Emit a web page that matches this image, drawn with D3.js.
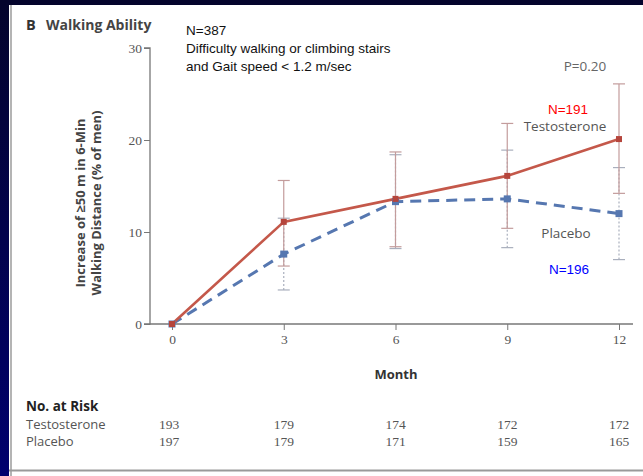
<!DOCTYPE html>
<html>
<head>
<meta charset="utf-8">
<script src="https://cdn.jsdelivr.net/npm/d3@7/dist/d3.min.js"></script>
<style>
  html, body { margin: 0; padding: 0; background: #02022e; }
  svg { display: block; }
</style>
</head>
<body>
<svg id="chart" width="643" height="476"></svg>
<script>
// Months of follow-up
const months = [0, 3, 6, 9, 12];

// Percentage of men with an increase of >=50 m in 6-min walking distance
const testoValues = [0, 11.1, 13.6, 16.1, 20.1];
const testoLower  = [0, 6.3, 8.4, 10.4, 14.2];
const testoUpper  = [0, 15.6, 18.7, 21.8, 26.1];

const placeboValues = [0, 7.6, 13.3, 13.6, 12.0];
const placeboLower  = [0, 3.7, 8.2, 8.3, 7.0];
const placeboUpper  = [0, 11.5, 18.4, 18.9, 17.0];

// Number at risk
const riskTesto   = [193, 179, 174, 172, 172];
const riskPlacebo = [197, 179, 171, 159, 165];

const yTicks = [0, 10, 20, 30];

const svg = d3.select("#chart");

// Frame: dark backdrop with a white panel
const defs = svg.append("defs");
const grad = defs.append("linearGradient").attr("id", "bg").attr("x1", 0).attr("y1", 0).attr("x2", 0).attr("y2", 1);
grad.append("stop").attr("offset", "0%").attr("stop-color", "#04042c");
grad.append("stop").attr("offset", "100%").attr("stop-color", "#00006e");
svg.append("rect").attr("width", 643).attr("height", 476).attr("fill", "url(#bg)");
svg.append("rect").attr("x", 9).attr("y", 5).attr("width", 634).attr("height", 471).attr("fill", "#ffffff");
svg.append("line").attr("x1", 11).attr("x2", 11).attr("y1", 5).attr("y2", 476)
  .attr("stroke", "#b4b4b4").attr("stroke-width", 2);
svg.append("line").attr("x1", 9).attr("x2", 643).attr("y1", 470.5).attr("y2", 470.5)
  .attr("stroke", "#9a9a9a").attr("stroke-width", 2);

const sans = "'Open Sans', 'Noto Sans', sans-serif";
const serif = "'Liberation Serif', 'DejaVu Serif', serif";
const arial = "'Liberation Sans', Arial, sans-serif";

// Scales
const x = d3.scaleLinear().domain([0, 12]).range([172, 619]);
const y = d3.scaleLinear().domain([0, 30]).range([324, 48]);

// Y axis
const yAxis = d3.axisLeft(y).tickValues(yTicks).tickSize(6).tickPadding(2);
const gy = svg.append("g").attr("transform", "translate(150,0)").call(yAxis);
gy.select(".domain").attr("stroke", "#777").attr("stroke-width", 1.3).attr("d", "M-6,48H0V324H-6");
gy.selectAll(".tick line").attr("stroke", "#777");
gy.selectAll(".tick text").attr("fill", "#555").style("font-family", serif).style("font-size", "13.5px");

// X axis
const xAxis = d3.axisBottom(x).tickValues(months).tickSize(6).tickPadding(4);
const gx = svg.append("g").attr("transform", "translate(0,324)").call(xAxis);
gx.select(".domain").attr("stroke", "#777").attr("stroke-width", 1.3).attr("d", "M150,0H633");
gx.selectAll(".tick line").attr("stroke", "#777");
gx.selectAll(".tick text").attr("fill", "#555").style("font-family", serif).style("font-size", "13.5px");

// Axis titles
svg.append("text").attr("x", 396).attr("y", 379).attr("text-anchor", "middle")
  .style("font-family", sans).style("font-weight", "bold").style("font-size", "13px").attr("fill", "#333")
  .text("Month");

const yTitle = svg.append("g").attr("transform", "translate(86,203) rotate(-90)");
yTitle.append("text").attr("x", 0).attr("y", -1).attr("text-anchor", "middle")
  .style("font-family", sans).style("font-weight", "bold").style("font-size", "13px").attr("fill", "#444")
  .text("Increase of \u226550 m in 6-Min");
yTitle.append("text").attr("x", 0).attr("y", 15).attr("text-anchor", "middle")
  .style("font-family", sans).style("font-weight", "bold").style("font-size", "13px").attr("fill", "#444")
  .text("Walking Distance (% of men)");

// Panel heading
svg.append("text").attr("x", 26).attr("y", 30)
  .style("font-family", sans).style("font-weight", "bold").style("font-size", "14.5px").attr("fill", "#333")
  .text("B");
svg.append("text").attr("x", 46).attr("y", 30)
  .style("font-family", sans).style("font-weight", "bold").style("font-size", "14px").attr("fill", "#444")
  .text("Walking Ability");

// Study population note
const note = svg.append("text").style("font-family", arial).style("font-size", "13.5px").attr("fill", "#111");
note.append("tspan").attr("x", 186).attr("y", 35).text("N=387");
note.append("tspan").attr("x", 186).attr("y", 53).text("Difficulty walking or climbing stairs");
note.append("tspan").attr("x", 186).attr("y", 71).text("and Gait speed < 1.2 m/sec");

// Error bars
const testoColor = "#c4584a";
const placeboColor = "#5677b0";
function errorBars(lower, upper, stroke, dash, cls) {
  const g = svg.append("g").attr("class", cls);
  months.forEach((m, i) => {
    if (upper[i] === lower[i]) return;
    const cx = x(m);
    g.append("line").attr("x1", cx).attr("x2", cx).attr("y1", y(lower[i])).attr("y2", y(upper[i]))
      .attr("stroke", stroke).attr("stroke-width", 1.2).attr("stroke-dasharray", dash);
    [lower[i], upper[i]].forEach(v => {
      g.append("line").attr("x1", cx - 6).attr("x2", cx + 6).attr("y1", y(v)).attr("y2", y(v))
        .attr("stroke", stroke).attr("stroke-width", 1.2);
    });
  });
}
errorBars(placeboLower, placeboUpper, "#a9afbd", "2,2", "placebo-err");
errorBars(testoLower, testoUpper, "#c39c9c", null, "testo-err");

// Lines
const line = d3.line().x((d, i) => x(months[i])).y(d => y(d));
svg.append("path").datum(placeboValues).attr("d", line).attr("fill", "none")
  .attr("stroke", placeboColor).attr("stroke-width", 3).attr("stroke-dasharray", "11,7");
svg.append("path").datum(testoValues).attr("d", line).attr("fill", "none")
  .attr("stroke", testoColor).attr("stroke-width", 2.6);

// Markers
svg.append("g").selectAll("rect").data(placeboValues).join("rect")
  .attr("x", (d, i) => x(months[i]) - 3.5).attr("y", d => y(d) - 3.5)
  .attr("width", 7).attr("height", 7).attr("fill", placeboColor);
svg.append("g").selectAll("rect").data(testoValues).join("rect")
  .attr("x", (d, i) => x(months[i]) - 3).attr("y", d => y(d) - 3)
  .attr("width", 6).attr("height", 6).attr("fill", "#b5453c");

// Series labels
svg.append("text").attr("x", 585).attr("y", 71).attr("text-anchor", "middle")
  .style("font-family", sans).style("font-size", "13.5px").attr("fill", "#666").text("P=0.20");
svg.append("text").attr("x", 568).attr("y", 114).attr("text-anchor", "middle")
  .style("font-family", arial).style("font-size", "13.5px").attr("fill", "#ff0000").text("N=191");
svg.append("text").attr("x", 565).attr("y", 131).attr("text-anchor", "middle")
  .style("font-family", sans).style("font-size", "13.5px").attr("fill", "#555").text("Testosterone");
svg.append("text").attr("x", 566).attr("y", 238).attr("text-anchor", "middle")
  .style("font-family", sans).style("font-size", "13.5px").attr("fill", "#555").text("Placebo");
svg.append("text").attr("x", 569).attr("y", 274).attr("text-anchor", "middle")
  .style("font-family", arial).style("font-size", "13.5px").attr("fill", "#0000ff").text("N=196");

// Number at risk table
svg.append("text").attr("x", 26).attr("y", 411)
  .style("font-family", sans).style("font-weight", "bold").style("font-size", "13.5px").attr("fill", "#222")
  .text("No. at Risk");
svg.append("text").attr("x", 26).attr("y", 429)
  .style("font-family", sans).style("font-size", "13px").attr("fill", "#555").text("Testosterone");
svg.append("text").attr("x", 26).attr("y", 446)
  .style("font-family", sans).style("font-size", "13px").attr("fill", "#555").text("Placebo");

// First column of the table sits a little left of the month-0 tick
const riskX = (i) => i === 0 ? 169 : x(months[i]);
svg.append("g").selectAll("text").data(riskTesto).join("text")
  .attr("x", (d, i) => riskX(i)).attr("y", 429).attr("text-anchor", "middle")
  .style("font-family", serif).style("font-size", "13.5px").attr("fill", "#555").text(d => d);
svg.append("g").selectAll("text").data(riskPlacebo).join("text")
  .attr("x", (d, i) => riskX(i)).attr("y", 446).attr("text-anchor", "middle")
  .style("font-family", serif).style("font-size", "13.5px").attr("fill", "#555").text(d => d);
</script>
</body>
</html>
